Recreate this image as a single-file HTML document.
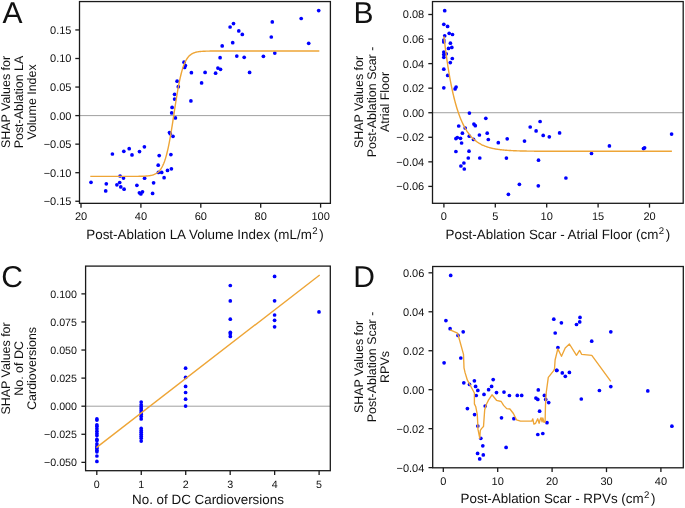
<!DOCTYPE html>
<html><head><meta charset="utf-8"><style>
html,body{margin:0;padding:0;background:#fff;width:685px;height:508px;overflow:hidden}
svg{display:block;will-change:transform}
text{font-family:"Liberation Sans", sans-serif;fill:#111;text-rendering:geometricPrecision}
</style></head><body>
<svg width="685" height="508" viewBox="0 0 685 508">
<rect width="685" height="508" fill="#fff"/>
<line x1="79.5" y1="115.6" x2="330.4" y2="115.6" stroke="#a0a0a0" stroke-width="1"/>
<g fill="#0000ff">
<circle cx="233.5" cy="23.6" r="1.85"/>
<circle cx="230.1" cy="27.0" r="1.85"/>
<circle cx="238.8" cy="30.9" r="1.85"/>
<circle cx="242.3" cy="34.4" r="1.85"/>
<circle cx="232.7" cy="42.7" r="1.85"/>
<circle cx="222.2" cy="45.9" r="1.85"/>
<circle cx="236.8" cy="56.1" r="1.85"/>
<circle cx="244.2" cy="57.3" r="1.85"/>
<circle cx="220.1" cy="57.7" r="1.85"/>
<circle cx="184.0" cy="62.2" r="1.85"/>
<circle cx="185.4" cy="65.5" r="1.85"/>
<circle cx="184.6" cy="67.4" r="1.85"/>
<circle cx="217.9" cy="68.1" r="1.85"/>
<circle cx="220.5" cy="69.3" r="1.85"/>
<circle cx="191.4" cy="72.7" r="1.85"/>
<circle cx="205.1" cy="72.4" r="1.85"/>
<circle cx="215.6" cy="73.2" r="1.85"/>
<circle cx="249.6" cy="72.4" r="1.85"/>
<circle cx="201.6" cy="82.9" r="1.85"/>
<circle cx="177.1" cy="81.2" r="1.85"/>
<circle cx="178.3" cy="86.7" r="1.85"/>
<circle cx="174.6" cy="94.3" r="1.85"/>
<circle cx="174.6" cy="99.1" r="1.85"/>
<circle cx="190.9" cy="100.9" r="1.85"/>
<circle cx="172.1" cy="107.4" r="1.85"/>
<circle cx="171.7" cy="112.9" r="1.85"/>
<circle cx="175.4" cy="117.9" r="1.85"/>
<circle cx="272.3" cy="21.9" r="1.85"/>
<circle cx="301.2" cy="18.5" r="1.85"/>
<circle cx="318.7" cy="10.6" r="1.85"/>
<circle cx="271.3" cy="37.0" r="1.85"/>
<circle cx="308.7" cy="43.3" r="1.85"/>
<circle cx="263.4" cy="56.3" r="1.85"/>
<circle cx="274.8" cy="53.1" r="1.85"/>
<circle cx="169.5" cy="132.5" r="1.85"/>
<circle cx="170.3" cy="133.7" r="1.85"/>
<circle cx="173.0" cy="136.3" r="1.85"/>
<circle cx="159.2" cy="155.6" r="1.85"/>
<circle cx="170.9" cy="154.6" r="1.85"/>
<circle cx="158.2" cy="165.2" r="1.85"/>
<circle cx="158.4" cy="172.4" r="1.85"/>
<circle cx="161.7" cy="172.4" r="1.85"/>
<circle cx="167.5" cy="170.4" r="1.85"/>
<circle cx="171.4" cy="168.8" r="1.85"/>
<circle cx="164.1" cy="177.7" r="1.85"/>
<circle cx="153.6" cy="182.8" r="1.85"/>
<circle cx="112.4" cy="154.0" r="1.85"/>
<circle cx="123.8" cy="151.3" r="1.85"/>
<circle cx="129.2" cy="148.7" r="1.85"/>
<circle cx="132.0" cy="154.9" r="1.85"/>
<circle cx="139.5" cy="151.6" r="1.85"/>
<circle cx="144.4" cy="146.8" r="1.85"/>
<circle cx="91.0" cy="182.3" r="1.85"/>
<circle cx="106.3" cy="183.8" r="1.85"/>
<circle cx="105.7" cy="190.9" r="1.85"/>
<circle cx="120.1" cy="176.0" r="1.85"/>
<circle cx="123.5" cy="178.1" r="1.85"/>
<circle cx="119.7" cy="182.5" r="1.85"/>
<circle cx="116.9" cy="184.8" r="1.85"/>
<circle cx="120.8" cy="186.9" r="1.85"/>
<circle cx="124.1" cy="189.2" r="1.85"/>
<circle cx="136.9" cy="185.3" r="1.85"/>
<circle cx="144.6" cy="178.2" r="1.85"/>
<circle cx="139.4" cy="192.8" r="1.85"/>
<circle cx="140.9" cy="194.0" r="1.85"/>
<circle cx="142.5" cy="191.8" r="1.85"/>
<circle cx="152.6" cy="193.4" r="1.85"/>
</g>
<polyline points="90.30,176.40 90.80,176.40 91.30,176.40 91.80,176.40 92.30,176.40 92.80,176.40 93.30,176.40 93.80,176.40 94.30,176.40 94.80,176.40 95.30,176.40 95.80,176.40 96.30,176.40 96.80,176.40 97.30,176.40 97.80,176.40 98.30,176.40 98.80,176.40 99.30,176.40 99.80,176.40 100.30,176.40 100.80,176.40 101.30,176.40 101.80,176.40 102.30,176.40 102.80,176.40 103.30,176.40 103.80,176.40 104.30,176.40 104.80,176.40 105.30,176.40 105.80,176.40 106.30,176.40 106.80,176.40 107.30,176.40 107.80,176.40 108.30,176.40 108.80,176.40 109.30,176.40 109.80,176.40 110.30,176.40 110.80,176.40 111.30,176.40 111.80,176.40 112.30,176.40 112.80,176.40 113.30,176.40 113.80,176.40 114.30,176.40 114.80,176.40 115.30,176.40 115.80,176.40 116.30,176.40 116.80,176.40 117.30,176.40 117.80,176.40 118.30,176.40 118.80,176.40 119.30,176.40 119.80,176.40 120.30,176.40 120.80,176.40 121.30,176.40 121.80,176.40 122.30,176.40 122.80,176.40 123.30,176.40 123.80,176.40 124.30,176.40 124.80,176.40 125.30,176.40 125.80,176.39 126.30,176.39 126.80,176.39 127.30,176.39 127.80,176.39 128.30,176.39 128.80,176.39 129.30,176.39 129.80,176.39 130.30,176.39 130.80,176.39 131.30,176.38 131.80,176.38 132.30,176.38 132.80,176.38 133.30,176.38 133.80,176.37 134.30,176.37 134.80,176.37 135.30,176.36 135.80,176.36 136.30,176.35 136.80,176.35 137.30,176.34 137.80,176.34 138.30,176.33 138.80,176.32 139.30,176.31 139.80,176.30 140.30,176.29 140.80,176.28 141.30,176.27 141.80,176.26 142.30,176.24 142.80,176.22 143.30,176.20 143.80,176.18 144.30,176.16 144.80,176.13 145.30,176.10 145.80,176.06 146.30,176.03 146.80,175.99 147.30,175.94 147.80,175.89 148.30,175.83 148.80,175.77 149.30,175.70 149.80,175.63 150.30,175.54 150.80,175.45 151.30,175.34 151.80,175.23 152.30,175.10 152.80,174.96 153.30,174.80 153.80,174.62 154.30,174.43 154.80,174.21 155.30,173.98 155.80,173.71 156.30,173.42 156.80,173.10 157.30,172.75 157.80,172.36 158.30,171.93 158.80,171.45 159.30,170.93 159.80,170.35 160.30,169.72 160.80,169.02 161.30,168.26 161.80,167.42 162.30,166.50 162.80,165.50 163.30,164.41 163.80,163.22 164.30,161.93 164.80,160.53 165.30,159.02 165.80,157.39 166.30,155.63 166.80,153.75 167.30,151.73 167.80,149.59 168.30,147.31 168.80,144.89 169.30,142.35 169.80,139.69 170.30,136.90 170.80,134.01 171.30,131.01 171.80,127.93 172.30,124.77 172.80,121.56 173.30,118.30 173.80,115.02 174.30,111.73 174.80,108.45 175.30,105.19 175.80,101.99 176.30,98.85 176.80,95.78 177.30,92.80 177.80,89.93 178.30,87.17 178.80,84.53 179.30,82.01 179.80,79.63 180.30,77.37 180.80,75.25 181.30,73.27 181.80,71.41 182.30,69.68 182.80,68.07 183.30,66.58 183.80,65.20 184.30,63.93 184.80,62.76 185.30,61.69 185.80,60.71 186.30,59.81 186.80,58.99 187.30,58.24 187.80,57.55 188.30,56.93 188.80,56.36 189.30,55.85 189.80,55.38 190.30,54.96 190.80,54.58 191.30,54.23 191.80,53.92 192.30,53.63 192.80,53.37 193.30,53.14 193.80,52.93 194.30,52.74 194.80,52.57 195.30,52.42 195.80,52.28 196.30,52.15 196.80,52.04 197.30,51.93 197.80,51.84 198.30,51.76 198.80,51.68 199.30,51.61 199.80,51.55 200.30,51.50 200.80,51.45 201.30,51.40 201.80,51.36 202.30,51.33 202.80,51.30 203.30,51.27 203.80,51.24 204.30,51.22 204.80,51.19 205.30,51.18 205.80,51.16 206.30,51.14 206.80,51.13 207.30,51.12 207.80,51.10 208.30,51.09 208.80,51.08 209.30,51.08 209.80,51.07 210.30,51.06 210.80,51.06 211.30,51.05 211.80,51.04 212.30,51.04 212.80,51.04 213.30,51.03 213.80,51.03 214.30,51.03 214.80,51.02 215.30,51.02 215.80,51.02 216.30,51.02 216.80,51.02 217.30,51.01 217.80,51.01 218.30,51.01 218.80,51.01 219.30,51.01 219.80,51.01 220.30,51.01 220.80,51.01 221.30,51.01 221.80,51.01 222.30,51.00 222.80,51.00 223.30,51.00 223.80,51.00 224.30,51.00 224.80,51.00 225.30,51.00 225.80,51.00 226.30,51.00 226.80,51.00 227.30,51.00 227.80,51.00 228.30,51.00 228.80,51.00 229.30,51.00 229.80,51.00 230.30,51.00 230.80,51.00 231.30,51.00 231.80,51.00 232.30,51.00 232.80,51.00 233.30,51.00 233.80,51.00 234.30,51.00 234.80,51.00 235.30,51.00 235.80,51.00 236.30,51.00 236.80,51.00 237.30,51.00 237.80,51.00 238.30,51.00 238.80,51.00 239.30,51.00 239.80,51.00 240.30,51.00 240.80,51.00 241.30,51.00 241.80,51.00 242.30,51.00 242.80,51.00 243.30,51.00 243.80,51.00 244.30,51.00 244.80,51.00 245.30,51.00 245.80,51.00 246.30,51.00 246.80,51.00 247.30,51.00 247.80,51.00 248.30,51.00 248.80,51.00 249.30,51.00 249.80,51.00 250.30,51.00 250.80,51.00 251.30,51.00 251.80,51.00 252.30,51.00 252.80,51.00 253.30,51.00 253.80,51.00 254.30,51.00 254.80,51.00 255.30,51.00 255.80,51.00 256.30,51.00 256.80,51.00 257.30,51.00 257.80,51.00 258.30,51.00 258.80,51.00 259.30,51.00 259.80,51.00 260.30,51.00 260.80,51.00 261.30,51.00 261.80,51.00 262.30,51.00 262.80,51.00 263.30,51.00 263.80,51.00 264.30,51.00 264.80,51.00 265.30,51.00 265.80,51.00 266.30,51.00 266.80,51.00 267.30,51.00 267.80,51.00 268.30,51.00 268.80,51.00 269.30,51.00 269.80,51.00 270.30,51.00 270.80,51.00 271.30,51.00 271.80,51.00 272.30,51.00 272.80,51.00 273.30,51.00 273.80,51.00 274.30,51.00 274.80,51.00 275.30,51.00 275.80,51.00 276.30,51.00 276.80,51.00 277.30,51.00 277.80,51.00 278.30,51.00 278.80,51.00 279.30,51.00 279.80,51.00 280.30,51.00 280.80,51.00 281.30,51.00 281.80,51.00 282.30,51.00 282.80,51.00 283.30,51.00 283.80,51.00 284.30,51.00 284.80,51.00 285.30,51.00 285.80,51.00 286.30,51.00 286.80,51.00 287.30,51.00 287.80,51.00 288.30,51.00 288.80,51.00 289.30,51.00 289.80,51.00 290.30,51.00 290.80,51.00 291.30,51.00 291.80,51.00 292.30,51.00 292.80,51.00 293.30,51.00 293.80,51.00 294.30,51.00 294.80,51.00 295.30,51.00 295.80,51.00 296.30,51.00 296.80,51.00 297.30,51.00 297.80,51.00 298.30,51.00 298.80,51.00 299.30,51.00 299.80,51.00 300.30,51.00 300.80,51.00 301.30,51.00 301.80,51.00 302.30,51.00 302.80,51.00 303.30,51.00 303.80,51.00 304.30,51.00 304.80,51.00 305.30,51.00 305.80,51.00 306.30,51.00 306.80,51.00 307.30,51.00 307.80,51.00 308.30,51.00 308.80,51.00 309.30,51.00 309.80,51.00 310.30,51.00 310.80,51.00 311.30,51.00 311.80,51.00 312.30,51.00 312.80,51.00 313.30,51.00 313.80,51.00 314.30,51.00 314.80,51.00 315.30,51.00 315.80,51.00 316.30,51.00 316.80,51.00 317.30,51.00 317.80,51.00 318.30,51.00 318.80,51.00 319.30,51.00" fill="none" stroke="#eea536" stroke-width="1.4" stroke-linejoin="round" stroke-linecap="butt"/>
<rect x="79.5" y="1.56" width="250.89999999999998" height="201.79" fill="none" stroke="#1a1a1a" stroke-width="1.3"/>
<line x1="75.3" y1="29.950000000000003" x2="79.5" y2="29.950000000000003" stroke="#1a1a1a" stroke-width="1.3"/>
<text x="71.5" y="33.85" font-size="11" text-anchor="end">0.15</text>
<line x1="75.3" y1="58.49999999999999" x2="79.5" y2="58.49999999999999" stroke="#1a1a1a" stroke-width="1.3"/>
<text x="71.5" y="62.39999999999999" font-size="11" text-anchor="end">0.10</text>
<line x1="75.3" y1="87.05" x2="79.5" y2="87.05" stroke="#1a1a1a" stroke-width="1.3"/>
<text x="71.5" y="90.95" font-size="11" text-anchor="end">0.05</text>
<line x1="75.3" y1="115.6" x2="79.5" y2="115.6" stroke="#1a1a1a" stroke-width="1.3"/>
<text x="71.5" y="119.5" font-size="11" text-anchor="end">0.00</text>
<line x1="75.3" y1="144.15" x2="79.5" y2="144.15" stroke="#1a1a1a" stroke-width="1.3"/>
<text x="71.5" y="148.05" font-size="11" text-anchor="end">−0.05</text>
<line x1="75.3" y1="172.7" x2="79.5" y2="172.7" stroke="#1a1a1a" stroke-width="1.3"/>
<text x="71.5" y="176.6" font-size="11" text-anchor="end">−0.10</text>
<line x1="75.3" y1="201.25" x2="79.5" y2="201.25" stroke="#1a1a1a" stroke-width="1.3"/>
<text x="71.5" y="205.15" font-size="11" text-anchor="end">−0.15</text>
<line x1="81.0" y1="203.35" x2="81.0" y2="207.65" stroke="#1a1a1a" stroke-width="1.3"/>
<text x="81.0" y="219.6" font-size="11" text-anchor="middle">20</text>
<line x1="140.9" y1="203.35" x2="140.9" y2="207.65" stroke="#1a1a1a" stroke-width="1.3"/>
<text x="140.9" y="219.6" font-size="11" text-anchor="middle">40</text>
<line x1="200.8" y1="203.35" x2="200.8" y2="207.65" stroke="#1a1a1a" stroke-width="1.3"/>
<text x="200.8" y="219.6" font-size="11" text-anchor="middle">60</text>
<line x1="260.70000000000005" y1="203.35" x2="260.70000000000005" y2="207.65" stroke="#1a1a1a" stroke-width="1.3"/>
<text x="260.70000000000005" y="219.6" font-size="11" text-anchor="middle">80</text>
<line x1="320.6" y1="203.35" x2="320.6" y2="207.65" stroke="#1a1a1a" stroke-width="1.3"/>
<text x="320.6" y="219.6" font-size="11" text-anchor="middle">100</text>
<text x="204.95" y="239.3" font-size="13.4" text-anchor="middle">Post-Ablation LA Volume Index (mL/m<tspan font-size="9.6" dy="-5.2" dx="0.4">2</tspan><tspan dy="5.2" dx="1.6">)</tspan></text>
<text transform="translate(9.9,102) rotate(-90)" font-size="12.45" text-anchor="middle">SHAP Values for</text>
<text transform="translate(22.85,102) rotate(-90)" font-size="12.45" text-anchor="middle">Post-Ablation LA</text>
<text transform="translate(35.8,102) rotate(-90)" font-size="12.45" text-anchor="middle">Volume Index</text>
<text x="2.6" y="22.55" font-size="30">A</text>
<line x1="432.5" y1="112.73" x2="683.2" y2="112.73" stroke="#a0a0a0" stroke-width="1"/>
<g fill="#0000ff">
<circle cx="444.7" cy="10.7" r="1.85"/>
<circle cx="443.8" cy="24.3" r="1.85"/>
<circle cx="447.6" cy="26.4" r="1.85"/>
<circle cx="449.2" cy="33.3" r="1.85"/>
<circle cx="452.5" cy="34.5" r="1.85"/>
<circle cx="444.7" cy="35.8" r="1.85"/>
<circle cx="443.8" cy="40.1" r="1.85"/>
<circle cx="443.8" cy="41.9" r="1.85"/>
<circle cx="450.4" cy="43.2" r="1.85"/>
<circle cx="448.5" cy="48.4" r="1.85"/>
<circle cx="451.8" cy="47.4" r="1.85"/>
<circle cx="443.8" cy="52.0" r="1.85"/>
<circle cx="443.8" cy="54.6" r="1.85"/>
<circle cx="446.2" cy="53.8" r="1.85"/>
<circle cx="443.8" cy="57.3" r="1.85"/>
<circle cx="452.3" cy="58.5" r="1.85"/>
<circle cx="450.3" cy="62.6" r="1.85"/>
<circle cx="443.8" cy="69.2" r="1.85"/>
<circle cx="447.7" cy="75.4" r="1.85"/>
<circle cx="443.8" cy="87.8" r="1.85"/>
<circle cx="455.1" cy="88.9" r="1.85"/>
<circle cx="456.1" cy="87.0" r="1.85"/>
<circle cx="469.4" cy="113.1" r="1.85"/>
<circle cx="485.8" cy="118.3" r="1.85"/>
<circle cx="458.7" cy="126.0" r="1.85"/>
<circle cx="465.2" cy="128.0" r="1.85"/>
<circle cx="473.9" cy="124.1" r="1.85"/>
<circle cx="475.3" cy="125.7" r="1.85"/>
<circle cx="462.4" cy="133.2" r="1.85"/>
<circle cx="479.4" cy="135.0" r="1.85"/>
<circle cx="487.2" cy="133.2" r="1.85"/>
<circle cx="469.3" cy="136.2" r="1.85"/>
<circle cx="455.9" cy="138.6" r="1.85"/>
<circle cx="457.3" cy="137.5" r="1.85"/>
<circle cx="460.5" cy="138.3" r="1.85"/>
<circle cx="473.5" cy="139.4" r="1.85"/>
<circle cx="488.3" cy="139.5" r="1.85"/>
<circle cx="498.3" cy="142.7" r="1.85"/>
<circle cx="461.6" cy="143.0" r="1.85"/>
<circle cx="455.9" cy="151.5" r="1.85"/>
<circle cx="469.0" cy="151.2" r="1.85"/>
<circle cx="468.3" cy="158.0" r="1.85"/>
<circle cx="479.8" cy="158.0" r="1.85"/>
<circle cx="463.9" cy="163.0" r="1.85"/>
<circle cx="460.9" cy="166.0" r="1.85"/>
<circle cx="464.3" cy="169.0" r="1.85"/>
<circle cx="540.1" cy="121.5" r="1.85"/>
<circle cx="530.2" cy="127.0" r="1.85"/>
<circle cx="536.1" cy="130.9" r="1.85"/>
<circle cx="543.2" cy="135.4" r="1.85"/>
<circle cx="549.3" cy="136.8" r="1.85"/>
<circle cx="559.6" cy="132.9" r="1.85"/>
<circle cx="507.2" cy="138.8" r="1.85"/>
<circle cx="524.5" cy="141.1" r="1.85"/>
<circle cx="506.4" cy="158.1" r="1.85"/>
<circle cx="538.5" cy="160.2" r="1.85"/>
<circle cx="591.5" cy="153.5" r="1.85"/>
<circle cx="565.9" cy="178.0" r="1.85"/>
<circle cx="519.4" cy="184.3" r="1.85"/>
<circle cx="538.3" cy="185.8" r="1.85"/>
<circle cx="508.4" cy="194.3" r="1.85"/>
<circle cx="609.4" cy="145.9" r="1.85"/>
<circle cx="643.5" cy="148.6" r="1.85"/>
<circle cx="644.6" cy="147.8" r="1.85"/>
<circle cx="671.6" cy="134.1" r="1.85"/>
</g>
<polyline points="443.90,36.30 444.40,40.56 444.90,44.66 445.40,48.61 445.90,52.41 446.40,56.07 446.90,59.60 447.40,63.00 447.90,66.27 448.40,69.42 448.90,72.45 449.40,75.37 449.90,78.18 450.40,80.89 450.90,83.50 451.40,86.01 451.90,88.42 452.40,90.75 452.90,93.00 453.40,95.15 453.90,97.23 454.40,99.24 454.90,101.16 455.40,103.02 455.90,104.81 456.40,106.53 456.90,108.19 457.40,109.78 457.90,111.32 458.40,112.80 458.90,114.23 459.40,115.60 459.90,116.92 460.40,118.20 460.90,119.42 461.40,120.60 461.90,121.74 462.40,122.83 462.90,123.89 463.40,124.90 463.90,125.88 464.40,126.82 464.90,127.73 465.40,128.60 465.90,129.44 466.40,130.25 466.90,131.03 467.40,131.78 467.90,132.50 468.40,133.20 468.90,133.87 469.40,134.52 469.90,135.14 470.40,135.74 470.90,136.31 471.40,136.87 471.90,137.40 472.40,137.92 472.90,138.41 473.40,138.89 473.90,139.35 474.40,139.79 474.90,140.22 475.40,140.63 475.90,141.02 476.40,141.40 476.90,141.77 477.40,142.12 477.90,142.46 478.40,142.79 478.90,143.11 479.40,143.41 479.90,143.70 480.40,143.98 480.90,144.25 481.40,144.51 481.90,144.77 482.40,145.01 482.90,145.24 483.40,145.47 483.90,145.68 484.40,145.89 484.90,146.09 485.40,146.28 485.90,146.47 486.40,146.65 486.90,146.82 487.40,146.99 487.90,147.15 488.40,147.30 488.90,147.45 489.40,147.59 489.90,147.73 490.40,147.86 490.90,147.99 491.40,148.11 491.90,148.23 492.40,148.34 492.90,148.45 493.40,148.56 493.90,148.66 494.40,148.76 494.90,148.85 495.40,148.94 495.90,149.03 496.40,149.11 496.90,149.19 497.40,149.27 497.90,149.35 498.40,149.42 498.90,149.49 499.40,149.56 499.90,149.62 500.40,149.68 500.90,149.74 501.40,149.80 501.90,149.86 502.40,149.91 502.90,149.96 503.40,150.01 503.90,150.06 504.40,150.10 504.90,150.15 505.40,150.19 505.90,150.23 506.40,150.27 506.90,150.31 507.40,150.35 507.90,150.38 508.40,150.42 508.90,150.45 509.40,150.48 509.90,150.51 510.40,150.54 510.90,150.57 511.40,150.59 511.90,150.62 512.40,150.65 512.90,150.67 513.40,150.69 513.90,150.72 514.40,150.74 514.90,150.76 515.40,150.78 515.90,150.80 516.40,150.82 516.90,150.83 517.40,150.85 517.90,150.87 518.40,150.88 518.90,150.90 519.40,150.91 519.90,150.93 520.40,150.94 520.90,150.96 521.40,150.97 521.90,150.98 522.40,150.99 522.90,151.00 523.40,151.01 523.90,151.03 524.40,151.04 524.90,151.05 525.40,151.05 525.90,151.06 526.40,151.07 526.90,151.08 527.40,151.09 527.90,151.10 528.40,151.10 528.90,151.11 529.40,151.12 529.90,151.13 530.40,151.13 530.90,151.14 531.40,151.14 531.90,151.15 532.40,151.16 532.90,151.16 533.40,151.17 533.90,151.17 534.40,151.18 534.90,151.18 535.40,151.18 535.90,151.19 536.40,151.19 536.90,151.20 537.40,151.20 537.90,151.20 538.40,151.21 538.90,151.21 539.40,151.21 539.90,151.22 540.40,151.22 540.90,151.22 541.40,151.23 541.90,151.23 542.40,151.23 542.90,151.23 543.40,151.24 543.90,151.24 544.40,151.24 544.90,151.24 545.40,151.25 545.90,151.25 546.40,151.25 546.90,151.25 547.40,151.25 547.90,151.26 548.40,151.26 548.90,151.26 549.40,151.26 549.90,151.26 550.40,151.26 550.90,151.26 551.40,151.27 551.90,151.27 552.40,151.27 552.90,151.27 553.40,151.27 553.90,151.27 554.40,151.27 554.90,151.27 555.40,151.27 555.90,151.28 556.40,151.28 556.90,151.28 557.40,151.28 557.90,151.28 558.40,151.28 558.90,151.28 559.40,151.28 559.90,151.28 560.40,151.28 560.90,151.28 561.40,151.28 561.90,151.28 562.40,151.28 562.90,151.29 563.40,151.29 563.90,151.29 564.40,151.29 564.90,151.29 565.40,151.29 565.90,151.29 566.40,151.29 566.90,151.29 567.40,151.29 567.90,151.29 568.40,151.29 568.90,151.29 569.40,151.29 569.90,151.29 570.40,151.29 570.90,151.29 571.40,151.29 571.90,151.29 572.40,151.29 572.90,151.29 573.40,151.29 573.90,151.29 574.40,151.29 574.90,151.29 575.40,151.29 575.90,151.29 576.40,151.29 576.90,151.29 577.40,151.30 577.90,151.30 578.40,151.30 578.90,151.30 579.40,151.30 579.90,151.30 580.40,151.30 580.90,151.30 581.40,151.30 581.90,151.30 582.40,151.30 582.90,151.30 583.40,151.30 583.90,151.30 584.40,151.30 584.90,151.30 585.40,151.30 585.90,151.30 586.40,151.30 586.90,151.30 587.40,151.30 587.90,151.30 588.40,151.30 588.90,151.30 589.40,151.30 589.90,151.30 590.40,151.30 590.90,151.30 591.40,151.30 591.90,151.30 592.40,151.30 592.90,151.30 593.40,151.30 593.90,151.30 594.40,151.30 594.90,151.30 595.40,151.30 595.90,151.30 596.40,151.30 596.90,151.30 597.40,151.30 597.90,151.30 598.40,151.30 598.90,151.30 599.40,151.30 599.90,151.30 600.40,151.30 600.90,151.30 601.40,151.30 601.90,151.30 602.40,151.30 602.90,151.30 603.40,151.30 603.90,151.30 604.40,151.30 604.90,151.30 605.40,151.30 605.90,151.30 606.40,151.30 606.90,151.30 607.40,151.30 607.90,151.30 608.40,151.30 608.90,151.30 609.40,151.30 609.90,151.30 610.40,151.30 610.90,151.30 611.40,151.30 611.90,151.30 612.40,151.30 612.90,151.30 613.40,151.30 613.90,151.30 614.40,151.30 614.90,151.30 615.40,151.30 615.90,151.30 616.40,151.30 616.90,151.30 617.40,151.30 617.90,151.30 618.40,151.30 618.90,151.30 619.40,151.30 619.90,151.30 620.40,151.30 620.90,151.30 621.40,151.30 621.90,151.30 622.40,151.30 622.90,151.30 623.40,151.30 623.90,151.30 624.40,151.30 624.90,151.30 625.40,151.30 625.90,151.30 626.40,151.30 626.90,151.30 627.40,151.30 627.90,151.30 628.40,151.30 628.90,151.30 629.40,151.30 629.90,151.30 630.40,151.30 630.90,151.30 631.40,151.30 631.90,151.30 632.40,151.30 632.90,151.30 633.40,151.30 633.90,151.30 634.40,151.30 634.90,151.30 635.40,151.30 635.90,151.30 636.40,151.30 636.90,151.30 637.40,151.30 637.90,151.30 638.40,151.30 638.90,151.30 639.40,151.30 639.90,151.30 640.40,151.30 640.90,151.30 641.40,151.30 641.90,151.30 642.40,151.30 642.90,151.30 643.40,151.30 643.90,151.30 644.40,151.30 644.90,151.30 645.40,151.30 645.90,151.30 646.40,151.30 646.90,151.30 647.40,151.30 647.90,151.30 648.40,151.30 648.90,151.30 649.40,151.30 649.90,151.30 650.40,151.30 650.90,151.30 651.40,151.30 651.90,151.30 652.40,151.30 652.90,151.30 653.40,151.30 653.90,151.30 654.40,151.30 654.90,151.30 655.40,151.30 655.90,151.30 656.40,151.30 656.90,151.30 657.40,151.30 657.90,151.30 658.40,151.30 658.90,151.30 659.40,151.30 659.90,151.30 660.40,151.30 660.90,151.30 661.40,151.30 661.90,151.30 662.40,151.30 662.90,151.30 663.40,151.30 663.90,151.30 664.40,151.30 664.90,151.30 665.40,151.30 665.90,151.30 666.40,151.30 666.90,151.30 667.40,151.30 667.90,151.30 668.40,151.30 668.90,151.30 669.40,151.30 669.90,151.30 670.40,151.30 670.90,151.30 671.40,151.30 671.90,151.30" fill="none" stroke="#eea536" stroke-width="1.4" stroke-linejoin="round" stroke-linecap="butt"/>
<rect x="432.5" y="1.56" width="250.70000000000005" height="201.74" fill="none" stroke="#1a1a1a" stroke-width="1.3"/>
<line x1="428.3" y1="14.49799999999999" x2="432.5" y2="14.49799999999999" stroke="#1a1a1a" stroke-width="1.3"/>
<text x="424.2" y="18.39799999999999" font-size="11" text-anchor="end">0.08</text>
<line x1="428.3" y1="39.056" x2="432.5" y2="39.056" stroke="#1a1a1a" stroke-width="1.3"/>
<text x="424.2" y="42.955999999999996" font-size="11" text-anchor="end">0.06</text>
<line x1="428.3" y1="63.614" x2="432.5" y2="63.614" stroke="#1a1a1a" stroke-width="1.3"/>
<text x="424.2" y="67.514" font-size="11" text-anchor="end">0.04</text>
<line x1="428.3" y1="88.172" x2="432.5" y2="88.172" stroke="#1a1a1a" stroke-width="1.3"/>
<text x="424.2" y="92.072" font-size="11" text-anchor="end">0.02</text>
<line x1="428.3" y1="112.73" x2="432.5" y2="112.73" stroke="#1a1a1a" stroke-width="1.3"/>
<text x="424.2" y="116.63000000000001" font-size="11" text-anchor="end">0.00</text>
<line x1="428.3" y1="137.288" x2="432.5" y2="137.288" stroke="#1a1a1a" stroke-width="1.3"/>
<text x="424.2" y="141.18800000000002" font-size="11" text-anchor="end">−0.02</text>
<line x1="428.3" y1="161.846" x2="432.5" y2="161.846" stroke="#1a1a1a" stroke-width="1.3"/>
<text x="424.2" y="165.746" font-size="11" text-anchor="end">−0.04</text>
<line x1="428.3" y1="186.404" x2="432.5" y2="186.404" stroke="#1a1a1a" stroke-width="1.3"/>
<text x="424.2" y="190.304" font-size="11" text-anchor="end">−0.06</text>
<line x1="443.9" y1="203.3" x2="443.9" y2="207.60000000000002" stroke="#1a1a1a" stroke-width="1.3"/>
<text x="443.9" y="220.2" font-size="11" text-anchor="middle">0</text>
<line x1="495.29999999999995" y1="203.3" x2="495.29999999999995" y2="207.60000000000002" stroke="#1a1a1a" stroke-width="1.3"/>
<text x="495.29999999999995" y="220.2" font-size="11" text-anchor="middle">5</text>
<line x1="546.6999999999999" y1="203.3" x2="546.6999999999999" y2="207.60000000000002" stroke="#1a1a1a" stroke-width="1.3"/>
<text x="546.6999999999999" y="220.2" font-size="11" text-anchor="middle">10</text>
<line x1="598.0999999999999" y1="203.3" x2="598.0999999999999" y2="207.60000000000002" stroke="#1a1a1a" stroke-width="1.3"/>
<text x="598.0999999999999" y="220.2" font-size="11" text-anchor="middle">15</text>
<line x1="649.5" y1="203.3" x2="649.5" y2="207.60000000000002" stroke="#1a1a1a" stroke-width="1.3"/>
<text x="649.5" y="220.2" font-size="11" text-anchor="middle">20</text>
<text x="557.85" y="239.2" font-size="13.4" text-anchor="middle">Post-Ablation Scar - Atrial Floor (cm<tspan font-size="9.6" dy="-5.2" dx="0.4">2</tspan><tspan dy="5.2" dx="1.6">)</tspan></text>
<text transform="translate(362.8,102) rotate(-90)" font-size="12.45" text-anchor="middle">SHAP Values for</text>
<text transform="translate(375.8,102) rotate(-90)" font-size="12.45" text-anchor="middle">Post-Ablation Scar -</text>
<text transform="translate(388.8,102) rotate(-90)" font-size="12.45" text-anchor="middle">Atrial Floor</text>
<text x="353.4" y="22.5" font-size="30">B</text>
<line x1="85.6" y1="406.2" x2="330.3" y2="406.2" stroke="#a0a0a0" stroke-width="1"/>
<g fill="#0000ff">
<circle cx="96.9" cy="418.9" r="1.85"/>
<circle cx="96.9" cy="420.1" r="1.85"/>
<circle cx="96.9" cy="424.8" r="1.85"/>
<circle cx="96.9" cy="426.3" r="1.85"/>
<circle cx="96.9" cy="428.7" r="1.85"/>
<circle cx="96.9" cy="431.2" r="1.85"/>
<circle cx="96.9" cy="433.6" r="1.85"/>
<circle cx="96.9" cy="435.6" r="1.85"/>
<circle cx="96.9" cy="439.3" r="1.85"/>
<circle cx="96.9" cy="440.5" r="1.85"/>
<circle cx="96.9" cy="443.9" r="1.85"/>
<circle cx="96.9" cy="446.4" r="1.85"/>
<circle cx="96.9" cy="448.3" r="1.85"/>
<circle cx="96.9" cy="450.3" r="1.85"/>
<circle cx="96.9" cy="451.8" r="1.85"/>
<circle cx="96.9" cy="456.0" r="1.85"/>
<circle cx="96.9" cy="461.4" r="1.85"/>
<circle cx="141.2" cy="402.1" r="1.85"/>
<circle cx="141.2" cy="404.8" r="1.85"/>
<circle cx="141.2" cy="406.8" r="1.85"/>
<circle cx="141.2" cy="408.7" r="1.85"/>
<circle cx="141.2" cy="410.7" r="1.85"/>
<circle cx="141.2" cy="412.7" r="1.85"/>
<circle cx="141.2" cy="414.6" r="1.85"/>
<circle cx="141.2" cy="416.6" r="1.85"/>
<circle cx="141.2" cy="419.0" r="1.85"/>
<circle cx="141.2" cy="428.4" r="1.85"/>
<circle cx="141.2" cy="430.5" r="1.85"/>
<circle cx="141.2" cy="432.3" r="1.85"/>
<circle cx="141.2" cy="434.3" r="1.85"/>
<circle cx="141.2" cy="436.2" r="1.85"/>
<circle cx="141.2" cy="438.2" r="1.85"/>
<circle cx="141.2" cy="441.1" r="1.85"/>
<circle cx="185.6" cy="368.2" r="1.85"/>
<circle cx="185.6" cy="377.4" r="1.85"/>
<circle cx="185.6" cy="386.4" r="1.85"/>
<circle cx="185.6" cy="392.5" r="1.85"/>
<circle cx="185.6" cy="399.2" r="1.85"/>
<circle cx="185.6" cy="406.1" r="1.85"/>
<circle cx="230.3" cy="285.5" r="1.85"/>
<circle cx="230.3" cy="300.9" r="1.85"/>
<circle cx="230.3" cy="319.2" r="1.85"/>
<circle cx="230.3" cy="332.3" r="1.85"/>
<circle cx="230.3" cy="333.8" r="1.85"/>
<circle cx="230.3" cy="336.4" r="1.85"/>
<circle cx="274.6" cy="276.4" r="1.85"/>
<circle cx="274.6" cy="300.8" r="1.85"/>
<circle cx="274.6" cy="315.0" r="1.85"/>
<circle cx="274.6" cy="320.3" r="1.85"/>
<circle cx="274.6" cy="326.8" r="1.85"/>
<circle cx="319.0" cy="311.9" r="1.85"/>
</g>
<polyline points="96.40,447.60 319.70,275.00" fill="none" stroke="#eea536" stroke-width="1.4" stroke-linejoin="round" stroke-linecap="butt"/>
<rect x="85.6" y="266.1" width="244.70000000000002" height="204.59999999999997" fill="none" stroke="#1a1a1a" stroke-width="1.3"/>
<line x1="81.39999999999999" y1="293.87" x2="85.6" y2="293.87" stroke="#1a1a1a" stroke-width="1.3"/>
<text x="77.0" y="297.77" font-size="10.7" text-anchor="end">0.100</text>
<line x1="81.39999999999999" y1="321.9525" x2="85.6" y2="321.9525" stroke="#1a1a1a" stroke-width="1.3"/>
<text x="77.0" y="325.85249999999996" font-size="10.7" text-anchor="end">0.075</text>
<line x1="81.39999999999999" y1="350.03499999999997" x2="85.6" y2="350.03499999999997" stroke="#1a1a1a" stroke-width="1.3"/>
<text x="77.0" y="353.93499999999995" font-size="10.7" text-anchor="end">0.050</text>
<line x1="81.39999999999999" y1="378.1175" x2="85.6" y2="378.1175" stroke="#1a1a1a" stroke-width="1.3"/>
<text x="77.0" y="382.0175" font-size="10.7" text-anchor="end">0.025</text>
<line x1="81.39999999999999" y1="406.2" x2="85.6" y2="406.2" stroke="#1a1a1a" stroke-width="1.3"/>
<text x="77.0" y="410.09999999999997" font-size="10.7" text-anchor="end">0.000</text>
<line x1="81.39999999999999" y1="434.28249999999997" x2="85.6" y2="434.28249999999997" stroke="#1a1a1a" stroke-width="1.3"/>
<text x="77.0" y="438.18249999999995" font-size="10.7" text-anchor="end">−0.025</text>
<line x1="81.39999999999999" y1="462.365" x2="85.6" y2="462.365" stroke="#1a1a1a" stroke-width="1.3"/>
<text x="77.0" y="466.265" font-size="10.7" text-anchor="end">−0.050</text>
<line x1="96.8" y1="470.7" x2="96.8" y2="475.0" stroke="#1a1a1a" stroke-width="1.3"/>
<text x="96.8" y="487.6" font-size="10.7" text-anchor="middle">0</text>
<line x1="141.26" y1="470.7" x2="141.26" y2="475.0" stroke="#1a1a1a" stroke-width="1.3"/>
<text x="141.26" y="487.6" font-size="10.7" text-anchor="middle">1</text>
<line x1="185.72" y1="470.7" x2="185.72" y2="475.0" stroke="#1a1a1a" stroke-width="1.3"/>
<text x="185.72" y="487.6" font-size="10.7" text-anchor="middle">2</text>
<line x1="230.18" y1="470.7" x2="230.18" y2="475.0" stroke="#1a1a1a" stroke-width="1.3"/>
<text x="230.18" y="487.6" font-size="10.7" text-anchor="middle">3</text>
<line x1="274.64" y1="470.7" x2="274.64" y2="475.0" stroke="#1a1a1a" stroke-width="1.3"/>
<text x="274.64" y="487.6" font-size="10.7" text-anchor="middle">4</text>
<line x1="319.1" y1="470.7" x2="319.1" y2="475.0" stroke="#1a1a1a" stroke-width="1.3"/>
<text x="319.1" y="487.6" font-size="10.7" text-anchor="middle">5</text>
<text x="207.95" y="503.6" font-size="13.4" text-anchor="middle">No. of DC Cardioversions</text>
<text transform="translate(9.9,368.4) rotate(-90)" font-size="12.45" text-anchor="middle">SHAP Values for</text>
<text transform="translate(22.85,368.4) rotate(-90)" font-size="12.45" text-anchor="middle">No. of DC</text>
<text transform="translate(35.8,368.4) rotate(-90)" font-size="12.45" text-anchor="middle">Cardioversions</text>
<text x="1.2" y="287.0" font-size="30">C</text>
<g fill="#0000ff">
<circle cx="450.7" cy="275.4" r="1.85"/>
<circle cx="445.9" cy="320.6" r="1.85"/>
<circle cx="450.1" cy="328.7" r="1.85"/>
<circle cx="463.2" cy="331.8" r="1.85"/>
<circle cx="458.0" cy="335.4" r="1.85"/>
<circle cx="460.8" cy="358.0" r="1.85"/>
<circle cx="444.1" cy="362.8" r="1.85"/>
<circle cx="463.8" cy="382.8" r="1.85"/>
<circle cx="469.5" cy="384.4" r="1.85"/>
<circle cx="474.4" cy="380.8" r="1.85"/>
<circle cx="475.6" cy="386.4" r="1.85"/>
<circle cx="477.8" cy="390.4" r="1.85"/>
<circle cx="476.2" cy="395.5" r="1.85"/>
<circle cx="484.0" cy="394.4" r="1.85"/>
<circle cx="488.6" cy="389.7" r="1.85"/>
<circle cx="491.6" cy="386.4" r="1.85"/>
<circle cx="493.2" cy="379.6" r="1.85"/>
<circle cx="496.5" cy="392.6" r="1.85"/>
<circle cx="504.0" cy="392.1" r="1.85"/>
<circle cx="509.4" cy="395.5" r="1.85"/>
<circle cx="467.4" cy="408.6" r="1.85"/>
<circle cx="485.2" cy="406.0" r="1.85"/>
<circle cx="474.6" cy="414.6" r="1.85"/>
<circle cx="477.8" cy="426.0" r="1.85"/>
<circle cx="480.8" cy="438.3" r="1.85"/>
<circle cx="482.8" cy="445.8" r="1.85"/>
<circle cx="501.5" cy="417.8" r="1.85"/>
<circle cx="506.1" cy="447.4" r="1.85"/>
<circle cx="477.6" cy="453.4" r="1.85"/>
<circle cx="483.3" cy="454.9" r="1.85"/>
<circle cx="479.7" cy="458.9" r="1.85"/>
<circle cx="517.3" cy="395.4" r="1.85"/>
<circle cx="521.7" cy="395.4" r="1.85"/>
<circle cx="538.3" cy="389.9" r="1.85"/>
<circle cx="535.9" cy="398.1" r="1.85"/>
<circle cx="537.8" cy="399.4" r="1.85"/>
<circle cx="544.4" cy="395.4" r="1.85"/>
<circle cx="545.7" cy="399.4" r="1.85"/>
<circle cx="548.7" cy="402.6" r="1.85"/>
<circle cx="539.6" cy="411.2" r="1.85"/>
<circle cx="556.7" cy="370.4" r="1.85"/>
<circle cx="513.9" cy="418.7" r="1.85"/>
<circle cx="547.0" cy="422.7" r="1.85"/>
<circle cx="537.8" cy="434.5" r="1.85"/>
<circle cx="542.8" cy="433.5" r="1.85"/>
<circle cx="553.8" cy="319.2" r="1.85"/>
<circle cx="561.4" cy="322.8" r="1.85"/>
<circle cx="580.0" cy="317.4" r="1.85"/>
<circle cx="579.7" cy="321.9" r="1.85"/>
<circle cx="576.5" cy="324.5" r="1.85"/>
<circle cx="555.2" cy="333.0" r="1.85"/>
<circle cx="591.7" cy="341.2" r="1.85"/>
<circle cx="610.8" cy="331.8" r="1.85"/>
<circle cx="557.9" cy="347.6" r="1.85"/>
<circle cx="556.8" cy="370.3" r="1.85"/>
<circle cx="562.3" cy="372.9" r="1.85"/>
<circle cx="565.3" cy="376.3" r="1.85"/>
<circle cx="569.4" cy="372.4" r="1.85"/>
<circle cx="599.4" cy="390.5" r="1.85"/>
<circle cx="610.8" cy="386.6" r="1.85"/>
<circle cx="581.3" cy="399.0" r="1.85"/>
<circle cx="647.8" cy="390.9" r="1.85"/>
<circle cx="671.9" cy="426.2" r="1.85"/>
</g>
<polyline points="450.10,329.80 457.50,333.20 458.50,336.30 463.50,354.40 464.00,367.80 465.00,372.40 467.40,380.20 470.50,385.70 474.40,393.00 474.40,403.90 475.80,406.80 477.30,414.70 477.80,424.50 478.00,429.40 479.80,438.30 480.30,430.40 481.70,428.40 483.50,426.50 484.70,409.70 486.20,404.80 488.60,399.90 492.00,394.80 496.50,400.30 501.20,401.50 503.60,405.40 506.70,408.60 509.90,409.00 513.40,413.50 516.50,419.80 520.50,421.10 531.80,421.10 532.80,418.90 533.90,424.10 535.60,423.30 537.70,418.80 539.10,423.30 540.20,419.50 541.00,417.70 542.10,421.90 542.80,418.00 544.00,422.30 545.10,421.90 545.50,405.00 546.30,392.00 548.30,377.30 553.50,370.80 554.50,369.00 555.10,360.00 557.80,348.90 561.50,356.30 565.20,347.90 569.40,344.00 576.50,355.30 579.60,350.40 581.60,354.30 591.80,355.30 610.80,381.40" fill="none" stroke="#eea536" stroke-width="1.35" stroke-linejoin="round" stroke-linecap="butt"/>
<rect x="432.7" y="266.5" width="250.59999999999997" height="201.3" fill="none" stroke="#1a1a1a" stroke-width="1.3"/>
<line x1="428.5" y1="272.82" x2="432.7" y2="272.82" stroke="#1a1a1a" stroke-width="1.3"/>
<text x="424.3" y="276.71999999999997" font-size="11" text-anchor="end">0.06</text>
<line x1="428.5" y1="311.78" x2="432.7" y2="311.78" stroke="#1a1a1a" stroke-width="1.3"/>
<text x="424.3" y="315.67999999999995" font-size="11" text-anchor="end">0.04</text>
<line x1="428.5" y1="350.74" x2="432.7" y2="350.74" stroke="#1a1a1a" stroke-width="1.3"/>
<text x="424.3" y="354.64" font-size="11" text-anchor="end">0.02</text>
<line x1="428.5" y1="389.7" x2="432.7" y2="389.7" stroke="#1a1a1a" stroke-width="1.3"/>
<text x="424.3" y="393.59999999999997" font-size="11" text-anchor="end">0.00</text>
<line x1="428.5" y1="428.65999999999997" x2="432.7" y2="428.65999999999997" stroke="#1a1a1a" stroke-width="1.3"/>
<text x="424.3" y="432.55999999999995" font-size="11" text-anchor="end">−0.02</text>
<line x1="428.5" y1="467.62" x2="432.7" y2="467.62" stroke="#1a1a1a" stroke-width="1.3"/>
<text x="424.3" y="471.52" font-size="11" text-anchor="end">−0.04</text>
<line x1="443.3" y1="467.8" x2="443.3" y2="472.1" stroke="#1a1a1a" stroke-width="1.3"/>
<text x="443.3" y="484.6" font-size="11" text-anchor="middle">0</text>
<line x1="497.70000000000005" y1="467.8" x2="497.70000000000005" y2="472.1" stroke="#1a1a1a" stroke-width="1.3"/>
<text x="497.70000000000005" y="484.6" font-size="11" text-anchor="middle">10</text>
<line x1="552.1" y1="467.8" x2="552.1" y2="472.1" stroke="#1a1a1a" stroke-width="1.3"/>
<text x="552.1" y="484.6" font-size="11" text-anchor="middle">20</text>
<line x1="606.5" y1="467.8" x2="606.5" y2="472.1" stroke="#1a1a1a" stroke-width="1.3"/>
<text x="606.5" y="484.6" font-size="11" text-anchor="middle">30</text>
<line x1="660.9000000000001" y1="467.8" x2="660.9000000000001" y2="472.1" stroke="#1a1a1a" stroke-width="1.3"/>
<text x="660.9000000000001" y="484.6" font-size="11" text-anchor="middle">40</text>
<text x="558.0" y="503.3" font-size="13.4" text-anchor="middle">Post-Ablation Scar - RPVs (cm<tspan font-size="9.6" dy="-5.2" dx="0.4">2</tspan><tspan dy="5.2" dx="1.6">)</tspan></text>
<text transform="translate(362.8,367) rotate(-90)" font-size="12.45" text-anchor="middle">SHAP Values for</text>
<text transform="translate(375.8,367) rotate(-90)" font-size="12.45" text-anchor="middle">Post-Ablation Scar -</text>
<text transform="translate(388.8,367) rotate(-90)" font-size="12.45" text-anchor="middle">RPVs</text>
<text x="353.2" y="286.9" font-size="30">D</text>
</svg></body></html>
